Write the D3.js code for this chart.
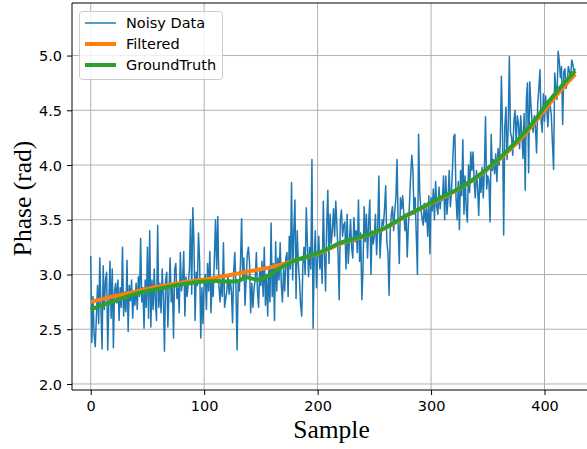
<!DOCTYPE html>
<html>
<head>
<meta charset="utf-8">
<script src="https://cdn.jsdelivr.net/npm/d3@7"></script>
<style>
  body { margin: 0; background: #fff; }
  svg { display: block; }
  .tick text { font-family: "DejaVu Sans", sans-serif; font-size: 14.5px; fill: #000; }
  .axis-title { font-family: "Liberation Serif", "Times New Roman", serif; font-size: 25.5px; fill: #000; }
  .legend-label { font-family: "DejaVu Sans", sans-serif; font-size: 14.5px; fill: #000; }
</style>
</head>
<body>
<div id="chart"></div>
<script>
// noisy phase samples, one per sample index 0..427
var noisyPhase = [
  3.17, 2.38, 2.80, 2.45, 2.34, 2.62, 2.90, 2.55, 3.15, 2.70,
  2.32, 3.08, 2.68, 2.95, 3.02, 2.31, 2.75, 3.12, 2.60, 3.05,
  2.33, 2.85, 2.92, 2.74, 2.95, 2.58, 2.88, 2.70, 3.25, 2.62,
  2.84, 2.66, 3.13, 2.48, 2.90, 2.76, 2.95, 2.60, 2.85, 2.72,
  2.92, 2.68, 2.98, 2.80, 3.33, 2.75, 2.88, 2.51, 2.95, 2.70,
  3.25, 2.60, 3.40, 2.52, 2.95, 2.68, 3.05, 2.75, 2.58, 3.45,
  2.70, 2.92, 2.65, 3.05, 2.80, 2.30, 2.95, 3.02, 2.52, 2.85,
  3.15, 2.75, 2.90, 2.42, 3.05, 3.10, 2.78, 2.88, 2.65, 3.20,
  2.85, 2.95, 3.21, 2.62, 2.98, 2.80, 2.92, 3.05, 3.50, 2.82,
  3.61, 3.30, 2.58, 3.02, 2.90, 3.38, 3.12, 2.42, 2.88, 2.55,
  2.95, 3.00, 2.68, 3.10, 2.85, 3.21, 2.65, 2.95, 2.80, 3.15,
  3.50, 3.05, 3.53, 2.90, 2.75, 2.95, 2.80, 3.29, 2.70, 2.78,
  2.85, 3.00, 2.82, 2.95, 2.85, 2.56, 3.02, 3.20, 2.88, 2.31,
  2.95, 2.85, 3.10, 3.51, 2.95, 3.15, 2.72, 2.95, 3.18, 3.25,
  3.10, 2.65, 2.92, 2.70, 2.88, 2.95, 3.20, 2.85, 2.70, 3.05,
  2.90, 3.12, 2.80, 3.25, 2.72, 3.00, 2.62, 3.05, 2.75, 3.47,
  2.80, 3.10, 2.58, 3.30, 2.85, 3.15, 2.95, 3.29, 2.90, 2.75,
  3.05, 2.85, 3.15, 3.20, 2.80, 3.35, 3.05, 3.84, 2.95, 3.40,
  3.68, 2.78, 3.40, 3.10, 2.95, 2.72, 2.62, 3.08, 3.25, 3.00,
  3.61, 3.28, 2.98, 3.25, 3.05, 4.05, 2.51, 3.15, 3.40, 2.88,
  3.15, 3.35, 3.05, 3.22, 2.92, 3.67, 3.20, 2.85, 3.45, 3.77,
  3.10, 3.55, 3.28, 3.40, 3.60, 3.35, 3.67, 3.45, 3.20, 2.77,
  3.50, 3.59, 3.35, 3.45, 3.48, 3.05, 3.55, 3.10, 3.30, 3.50,
  3.25, 3.15, 3.52, 3.30, 3.40, 3.20, 3.68, 3.12, 3.38, 2.77,
  3.05, 3.62, 3.30, 3.55, 3.15, 3.48, 3.68, 3.00, 3.40, 3.28,
  3.35, 3.55, 3.18, 3.42, 3.90, 3.15, 3.35, 3.50, 3.45, 3.60,
  3.81, 3.30, 3.20, 2.81, 3.40, 3.55, 3.62, 3.40, 3.58, 3.70,
  4.05, 3.45, 3.10, 3.70, 3.60, 3.72, 3.55, 3.40, 3.55, 3.16,
  3.45, 3.65, 3.90, 4.09, 3.95, 3.55, 3.70, 3.35, 3.00, 4.28,
  3.75, 3.60, 3.52, 3.45, 3.65, 3.48, 3.60, 3.35, 3.72, 3.19,
  3.70, 3.58, 3.78, 3.50, 3.85, 3.62, 3.55, 3.80, 3.60, 3.72,
  3.68, 3.90, 3.50, 3.90, 3.55, 3.70, 3.95, 3.62, 3.75, 4.00,
  4.26, 4.28, 3.70, 3.50, 3.85, 3.41, 3.95, 3.72, 4.23, 3.55,
  3.90, 3.60, 3.48, 4.00, 3.75, 4.12, 3.95, 4.12, 3.85, 3.70,
  3.95, 3.80, 3.54, 3.90, 3.75, 3.98, 3.70, 3.95, 4.44, 3.78,
  3.90, 3.85, 3.48, 4.28, 3.95, 4.05, 3.92, 4.10, 3.85, 4.15,
  4.00, 4.20, 4.81, 4.30, 3.36, 4.35, 4.53, 4.05, 4.35, 4.99,
  4.30, 4.25, 4.09, 4.40, 4.50, 4.20, 4.45, 4.38, 4.15, 4.45,
  4.30, 4.06, 4.47, 3.77, 4.60, 4.75, 3.93, 4.76, 4.55, 4.40,
  4.30, 4.45, 4.35, 4.11, 4.55, 4.70, 4.87, 4.40, 4.30, 4.65,
  4.40, 4.63, 4.50, 4.35, 4.60, 4.55, 4.45, 4.20, 3.96, 4.84,
  4.70, 4.60, 5.04, 4.95, 4.80, 4.90, 4.37, 4.85, 4.88, 4.70,
  4.75, 4.90, 4.85, 4.80, 4.96, 4.92, 4.85, 4.88
];

// filtered estimate, read at a few sample positions
var filteredSample = [0, 20, 40, 60, 80, 100, 120, 140, 160, 180, 200, 220, 240, 260, 280, 300, 320, 340, 360, 380, 400, 410, 420, 427];
var filteredPhase  = [2.75, 2.80, 2.845, 2.89, 2.925, 2.955, 2.99, 3.03, 3.07, 3.13, 3.19, 3.28, 3.345, 3.425, 3.545, 3.65, 3.755, 3.885, 4.05, 4.25, 4.50, 4.63, 4.75, 4.83];

// ground truth
var truthSample = [0, 10, 20, 30, 40, 50, 60, 70, 80, 90, 100, 110, 120, 130, 137, 146, 152, 158, 167, 178, 190, 200, 210, 220, 230, 240, 250, 260, 270, 280, 290, 300, 310, 320, 330, 340, 350, 360, 370, 380, 390, 400, 410, 420, 427];
var truthPhase  = [2.68, 2.72, 2.755, 2.79, 2.825, 2.85, 2.87, 2.89, 2.91, 2.925, 2.935, 2.94, 2.935, 2.94, 2.975, 2.955, 2.965, 3.0, 3.06, 3.12, 3.16, 3.195, 3.24, 3.29, 3.32, 3.35, 3.385, 3.43, 3.49, 3.55, 3.6, 3.655, 3.71, 3.76, 3.82, 3.89, 3.97, 4.06, 4.16, 4.27, 4.39, 4.53, 4.66, 4.78, 4.86];

var xTicks = [0, 100, 200, 300, 400];
var yTicks = [2.0, 2.5, 3.0, 3.5, 4.0, 4.5, 5.0];

var legendNames = ['Noisy Data', 'Filtered', 'GroundTruth'];
var colors = { noisy: '#1f77b4', filtered: '#ff7f0e', truth: '#2ca02c' };

var width = 587, height = 449;
var margin = { top: 3, left: 72, bottom: 59 };
var plotRight = 595; // the figure is cropped on the right

var svg = d3.select('#chart').append('svg')
  .attr('width', width)
  .attr('height', height);

var x = d3.scaleLinear().domain([-16.5, 444.5]).range([margin.left, plotRight]);
var y = d3.scaleLinear().domain([1.945, 5.48]).range([height - margin.bottom, margin.top]);

//grid
var grid = svg.append('g').attr('class', 'grid');
grid.selectAll('.gx').data(xTicks).enter().append('line')
  .attr('x1', function(d) { return x(d); }).attr('x2', function(d) { return x(d); })
  .attr('y1', y.range()[0]).attr('y2', y.range()[1])
  .attr('stroke', '#b0b0b0').attr('stroke-width', 1);
grid.selectAll('.gy').data(yTicks).enter().append('line')
  .attr('x1', margin.left).attr('x2', plotRight)
  .attr('y1', function(d) { return y(d); }).attr('y2', function(d) { return y(d); })
  .attr('stroke', '#b0b0b0').attr('stroke-width', 1);

//series
var noisyLine = d3.line()
  .x(function(d, i) { return x(i); })
  .y(function(d) { return y(d); });

svg.append('path')
  .datum(noisyPhase)
  .attr('fill', 'none')
  .attr('stroke', colors.noisy)
  .attr('stroke-width', 1.5)
  .attr('stroke-linejoin', 'round')
  .attr('d', noisyLine);

var smoothLine = d3.line()
  .x(function(d) { return x(d[0]); })
  .y(function(d) { return y(d[1]); })
  .curve(d3.curveMonotoneX);

svg.append('path')
  .datum(d3.zip(filteredSample, filteredPhase))
  .attr('fill', 'none')
  .attr('stroke', colors.filtered)
  .attr('stroke-width', 4)
  .attr('d', smoothLine);

svg.append('path')
  .datum(d3.zip(truthSample, truthPhase))
  .attr('fill', 'none')
  .attr('stroke', colors.truth)
  .attr('stroke-width', 4)
  .attr('d', smoothLine);

//axes
var xAxis = svg.append('g')
  .attr('transform', 'translate(0,' + y.range()[0] + ')')
  .call(d3.axisBottom(x).tickValues(xTicks).tickFormat(d3.format('d')).tickSize(5).tickPadding(6));
var yAxis = svg.append('g')
  .attr('transform', 'translate(' + margin.left + ',0)')
  .call(d3.axisLeft(y).tickValues(yTicks).tickFormat(d3.format('.1f')).tickSize(5).tickPadding(5));
[xAxis, yAxis].forEach(function(a) {
  a.select('.domain').remove();
  a.selectAll('.tick line').attr('stroke', '#000').attr('stroke-width', 1);
});
yAxis.selectAll('.tick text').attr('dy', '0.36em');

//spines
svg.append('line').attr('x1', margin.left).attr('x2', plotRight)
  .attr('y1', y.range()[0]).attr('y2', y.range()[0]).attr('stroke', '#000');
svg.append('line').attr('x1', margin.left).attr('x2', plotRight)
  .attr('y1', y.range()[1]).attr('y2', y.range()[1]).attr('stroke', '#000');
svg.append('line').attr('x1', margin.left).attr('x2', margin.left)
  .attr('y1', y.range()[0]).attr('y2', y.range()[1]).attr('stroke', '#000');

//axis titles
svg.append('text')
  .attr('class', 'axis-title')
  .attr('x', (x(0) + x(428)) / 2 - 2)
  .attr('y', 438)
  .attr('text-anchor', 'middle')
  .text('Sample');
svg.append('text')
  .attr('class', 'axis-title')
  .attr('transform', 'translate(31,' + ((y.range()[0] + y.range()[1]) / 2 + 2) + ') rotate(-90)')
  .attr('text-anchor', 'middle')
  .text('Phase (rad)');

//legend
var legend = svg.append('g').attr('transform', 'translate(79,11)');
legend.append('rect')
  .attr('x', 0.5).attr('y', 0.5)
  .attr('width', 143).attr('height', 68)
  .attr('rx', 3)
  .attr('fill', '#fff').attr('fill-opacity', 0.8)
  .attr('stroke', '#cccccc');
var legendColors = [colors.noisy, colors.filtered, colors.truth];
var legendWidths = [1.5, 4, 4];
legendNames.forEach(function(name, i) {
  var ly = 12 + i * 21;
  legend.append('line')
    .attr('x1', 6).attr('x2', 37)
    .attr('y1', ly).attr('y2', ly)
    .attr('stroke', legendColors[i])
    .attr('stroke-width', legendWidths[i]);
  legend.append('text')
    .attr('class', 'legend-label')
    .attr('x', 47).attr('y', ly + 5)
    .text(name);
});
</script>
</body>
</html>
